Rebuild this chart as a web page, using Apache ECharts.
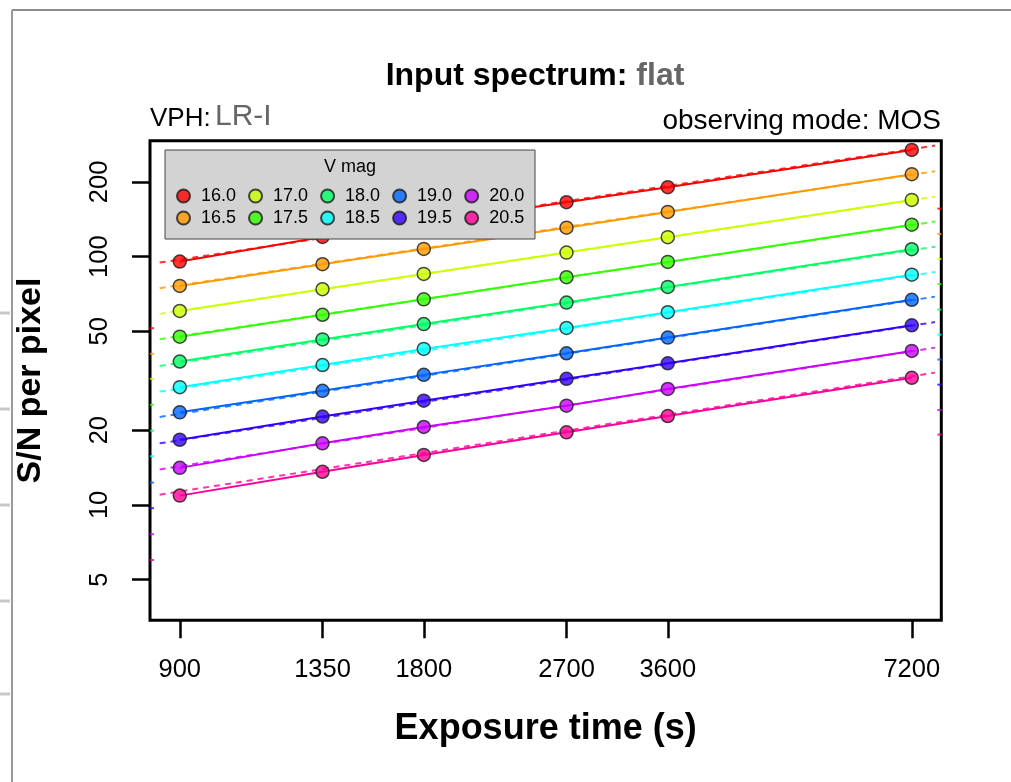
<!DOCTYPE html>
<html>
<head>
<meta charset="utf-8">
<script src="https://cdn.jsdelivr.net/npm/echarts@6/dist/echarts.min.js"></script>
<style>
html,body{margin:0;padding:0;background:#fff;}
#chart{width:1011px;height:782px;}
</style>
</head>
<body>
<div id="chart"></div>
<script>
// ---- data ----
const exposureTimes = [900, 1350, 1800, 2700, 3600, 7200];
const vMags = ['16.0','16.5','17.0','17.5','18.0','18.5','19.0','19.5','20.0','20.5'];
const xTickValues = [900, 1350, 1800, 2700, 3600, 7200];
const yTickValues = [5, 10, 20, 50, 100, 200];

// S/N per pixel at each exposure time (points + solid line)
const sn160 = [95.5, 120, 136, 165.6, 190.3, 269];
const sn165 = [76.2, 93.2, 107.4, 130.8, 151.4, 214.8];
const sn170 = [60.4, 73.9, 85.2, 103.8, 119.8, 169.2];
const sn175 = [47.6, 58.3, 67.3, 82.6, 95.2, 134.5];
const sn180 = [37.8, 46.4, 53.5, 65.3, 75.5, 107.1];
const sn185 = [29.8, 36.6, 42.5, 51.6, 59.7, 84.6];
const sn190 = [23.6, 28.8, 33.4, 40.8, 47.2, 67.0];
const sn195 = [18.3, 22.7, 26.3, 32.2, 37.2, 52.9];
const sn200 = [14.1, 17.7, 20.6, 25.1, 29.3, 41.7];
const sn205 = [10.9, 13.6, 15.9, 19.6, 22.8, 32.5];

// dashed fit lines (end points)
const fitTimes = [850, 7690];
const fit160 = [94.6, 280];
const fit165 = [74.6, 220.8];
const fit170 = [58.8, 174.4];
const fit175 = [46.5, 138.4];
const fit180 = [36.3, 109.7];
const fit185 = [28.6, 86.7];
const fit190 = [22.6, 69.0];
const fit195 = [17.7, 54.5];
const fit200 = [13.9, 43.0];
const fit205 = [11.0, 34.1];

// small coloured marks on the left / right frame edges
const rugLeft = [51.5, 40.6, 32.2, 25.3, 19.9, 15.7, 12.3, 9.70, 7.62, 6.00];
const rugRight = [156.1, 123.4, 97.9, 77.6, 61.2, 48.5, 38.5, 30.5, 24.1, 19.2];

const xRange = [827, 7830];
const yRange = [3.43, 293];

// ---- styles ----
const colors = ['#FF0000','#FF9900','#CCFF00','#33FF00','#00FF66','#00FFFF','#0066FF','#3300FF','#CC00FF','#FF0099'];
const FONT = '"Liberation Sans", Arial, Helvetica, sans-serif';

const snAll = [sn160, sn165, sn170, sn175, sn180, sn185, sn190, sn195, sn200, sn205];
const fitAll = [fit160, fit165, fit170, fit175, fit180, fit185, fit190, fit195, fit200, fit205];

const series = [];
vMags.forEach((m, i) => {
  series.push({
    type: 'line', name: m + ' model', silent: true, symbol: 'none', z: 2,
    data: fitTimes.map((x, j) => [x, fitAll[i][j]]),
    lineStyle: { color: colors[i], width: 2, type: [6, 5], opacity: 0.8 }
  });
  series.push({
    type: 'line', name: m + ' line', silent: true, symbol: 'none', z: 2,
    data: exposureTimes.map((x, j) => [x, snAll[i][j]]),
    lineStyle: { color: colors[i], width: 2 }
  });
});
vMags.forEach((m, i) => {
  series.push({
    type: 'scatter', name: m, z: 3, symbol: 'circle', symbolSize: 13,
    data: exposureTimes.map((x, j) => [x, snAll[i][j]]),
    itemStyle: { color: colors[i], borderColor: '#1a1a1a', borderWidth: 1.5 }
  });
});
series.push({
  type: 'scatter', name: 'rugL', silent: true, clip: false, z: 4,
  symbol: 'rect', symbolSize: [4, 2], symbolOffset: [2, 0],
  data: rugLeft.map((v, i) => ({ value: [xRange[0], v], itemStyle: { color: colors[i] } }))
});
series.push({
  type: 'scatter', name: 'rugR', silent: true, clip: false, z: 4,
  symbol: 'rect', symbolSize: [4, 2], symbolOffset: [-2, 0],
  data: rugRight.map((v, i) => ({ value: [xRange[1], v], itemStyle: { color: colors[i] } }))
});

const legendCommon = {
  orient: 'horizontal', left: 176, padding: 0, itemGap: 12,
  itemWidth: 25, itemHeight: 13, icon: 'circle', selectedMode: false, z: 11,
  textStyle: { fontSize: 18, fontFamily: FONT, color: '#000', lineHeight: 18 }
};

const option = {
  animation: false,
  backgroundColor: '#fff',
  grid: {
    left: 150, right: 69.7, top: 140.7, bottom: 161.7,
    show: true, borderColor: '#000', borderWidth: 3, backgroundColor: 'transparent'
  },
  xAxis: {
    type: 'log', logBase: 10, min: xRange[0], max: xRange[1],
    name: 'Exposure time (s)', nameLocation: 'middle', nameGap: 91,
    nameTextStyle: { fontSize: 36, fontWeight: 'bold', fontFamily: FONT, color: '#000' },
    axisLine: { show: false },
    splitLine: { show: false }, minorTick: { show: false }, minorSplitLine: { show: false },
    axisTick: { show: true, customValues: xTickValues, length: 18, lineStyle: { color: '#000', width: 2.5 } },
    axisLabel: { customValues: xTickValues, margin: 37, fontSize: 25.5, fontFamily: FONT, color: '#000',
      formatter: v => String(v) }
  },
  yAxis: {
    type: 'log', logBase: 10, min: yRange[0], max: yRange[1],
    name: 'S/N per pixel', nameLocation: 'middle', nameGap: 102,
    nameTextStyle: { fontSize: 34, fontWeight: 'bold', fontFamily: FONT, color: '#000' },
    axisLine: { show: false },
    splitLine: { show: false }, minorTick: { show: false }, minorSplitLine: { show: false },
    axisTick: { show: true, customValues: yTickValues, length: 18, lineStyle: { color: '#000', width: 2.5 } },
    axisLabel: { customValues: yTickValues, rotate: 90, margin: 37, fontSize: 25.5, fontFamily: FONT, color: '#000',
      formatter: v => String(v) }
  },
  legend: [
    Object.assign({}, legendCommon, { top: 187, data: ['16.0','17.0','18.0','19.0','20.0'] }),
    Object.assign({}, legendCommon, { top: 209, data: ['16.5','17.5','18.5','19.5','20.5'] })
  ],
  graphic: {
    elements: [
      // outer frame of the screenshot
      { type: 'line', z: 1, shape: { x1: 12, y1: 10, x2: 1011, y2: 10 }, style: { stroke: '#8c8c8c', lineWidth: 2 } },
      { type: 'line', z: 1, shape: { x1: 12, y1: 10, x2: 12, y2: 782 }, style: { stroke: '#9a9a9a', lineWidth: 2 } },
      { type: 'line', z: 1, shape: { x1: 0, y1: 313, x2: 10, y2: 313 }, style: { stroke: '#c8c8c8', lineWidth: 3 } },
      { type: 'line', z: 1, shape: { x1: 0, y1: 409, x2: 10, y2: 409 }, style: { stroke: '#c8c8c8', lineWidth: 3 } },
      { type: 'line', z: 1, shape: { x1: 0, y1: 505, x2: 10, y2: 505 }, style: { stroke: '#c8c8c8', lineWidth: 3 } },
      { type: 'line', z: 1, shape: { x1: 0, y1: 601, x2: 10, y2: 601 }, style: { stroke: '#c8c8c8', lineWidth: 3 } },
      { type: 'line', z: 1, shape: { x1: 0, y1: 694, x2: 10, y2: 694 }, style: { stroke: '#c8c8c8', lineWidth: 3 } },
      // titles
      { type: 'text', z: 10, x: 535, y: 76, style: {
          text: '{a|Input spectrum:} {b|flat}', align: 'center', verticalAlign: 'middle',
          fontSize: 32, fontWeight: 'bold', fontFamily: FONT, fill: '#000',
          rich: { a: { fontSize: 32, fontWeight: 'bold', fontFamily: FONT, fill: '#000' },
                  b: { fontSize: 32, fontWeight: 'bold', fontFamily: FONT, fill: '#666' } } } },
      { type: 'text', z: 10, x: 150, y: 119, style: { text: 'VPH:', align: 'left', verticalAlign: 'middle',
          fontSize: 26, fontFamily: FONT, fill: '#000' } },
      { type: 'text', z: 10, x: 215, y: 117, style: { text: 'LR-I', align: 'left', verticalAlign: 'middle',
          fontSize: 30, fontFamily: FONT, fill: '#666' } },
      { type: 'text', z: 10, x: 941, y: 121, style: { text: 'observing mode: MOS', align: 'right', verticalAlign: 'middle',
          fontSize: 28, fontFamily: FONT, fill: '#000' } },
      // legend box
      { type: 'rect', z: 10, shape: { x: 165, y: 150, width: 370, height: 89 },
        style: { fill: '#d3d3d3', stroke: '#444', lineWidth: 1 } },
      { type: 'text', z: 11, x: 350, y: 167, style: { text: 'V mag', align: 'center', verticalAlign: 'middle',
          fontSize: 18, fontFamily: FONT, fill: '#000' } }
    ]
  },
  series: series
};

const chart = echarts.init(document.getElementById('chart'), null, { renderer: 'canvas' });
chart.setOption(option);
</script>
</body>
</html>
